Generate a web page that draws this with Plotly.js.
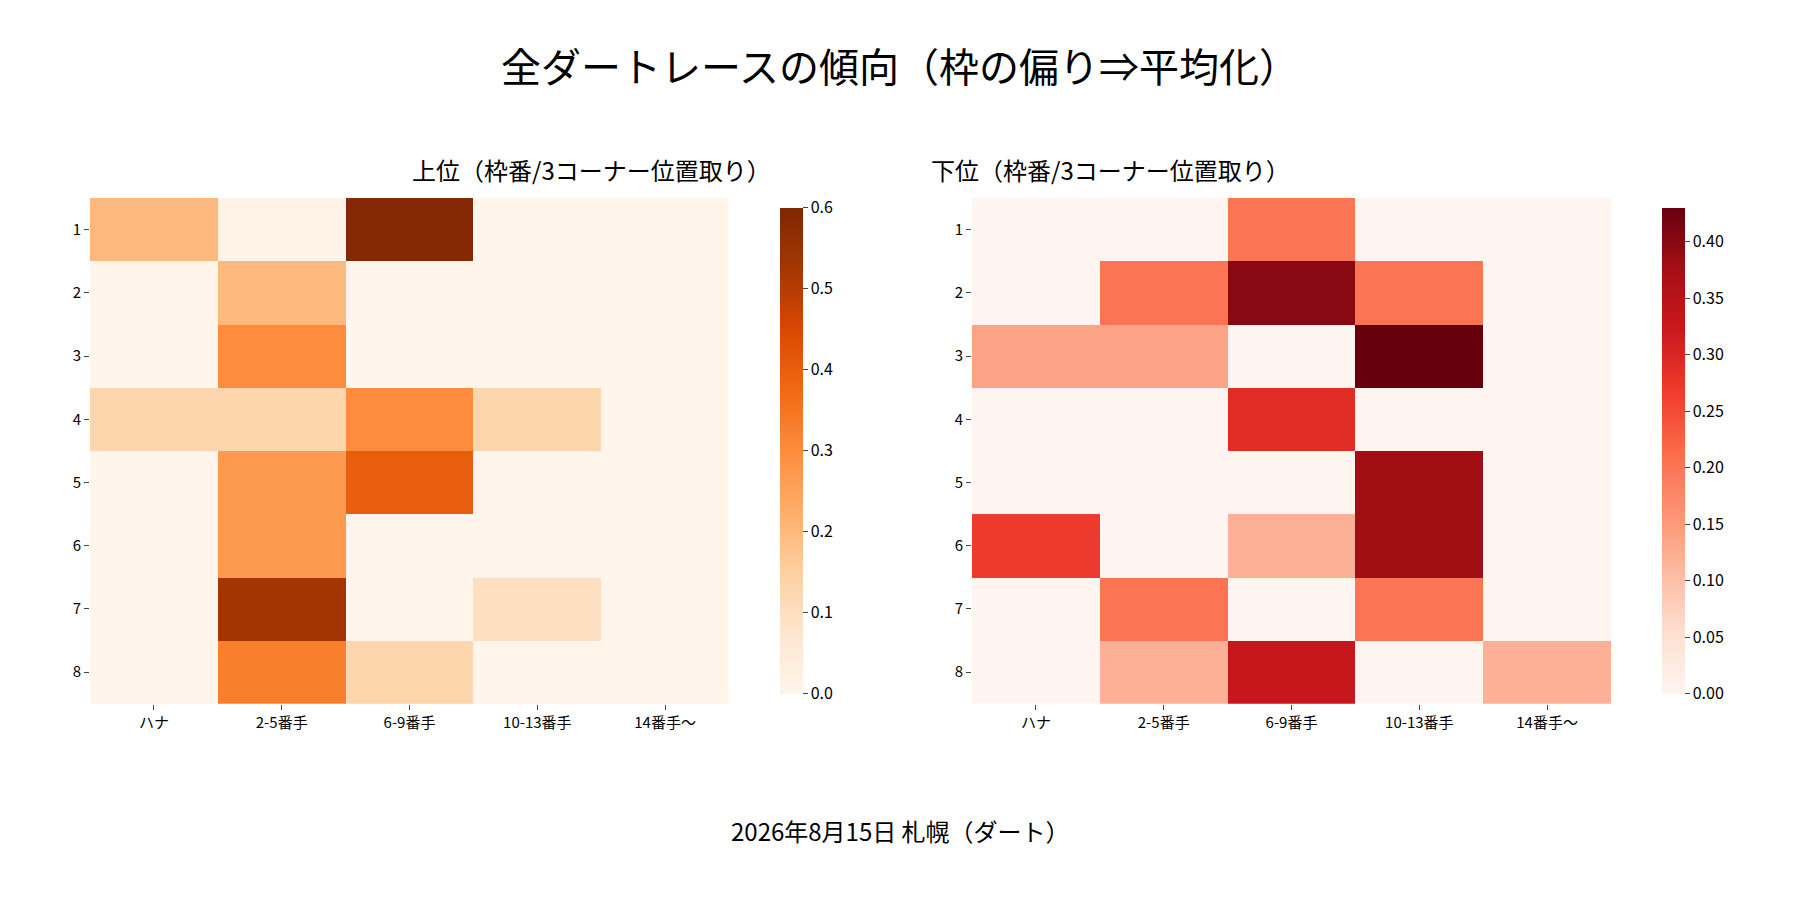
<!DOCTYPE html>
<html><head><meta charset="utf-8">
<script src="https://cdn.plot.ly/plotly-3.0.1.min.js"></script>
</head><body style="margin:0">
<div id="chart" style="width:1800px;height:900px"></div>
<script>
const cols = ['ハナ', '2-5番手', '6-9番手', '10-13番手', '14番手〜'];
const rows = [1, 2, 3, 4, 5, 6, 7, 8];

const upper = [
  [0.20, 0.01, 0.59, 0, 0],
  [0, 0.20, 0, 0, 0],
  [0, 0.30, 0, 0, 0],
  [0.13, 0.13, 0.30, 0.13, 0],
  [0, 0.27, 0.40, 0, 0],
  [0, 0.27, 0, 0, 0],
  [0, 0.53, 0, 0.10, 0],
  [0, 0.33, 0.13, 0, 0]
];
const lower = [
  [0, 0, 0.20, 0, 0],
  [0, 0.20, 0.40, 0.20, 0],
  [0.14, 0.14, 0, 0.43, 0],
  [0, 0, 0.29, 0, 0],
  [0, 0, 0, 0.38, 0],
  [0.27, 0, 0.12, 0.38, 0],
  [0, 0.20, 0, 0.20, 0],
  [0, 0.12, 0.33, 0, 0.12]
];

function scale(c) { return c.map((v, i) => [i / (c.length - 1), v]); }
const oranges = scale(['#fff5eb','#fee6ce','#fdd0a2','#fdae6b','#fd8d3c','#f16913','#d94801','#a63603','#7f2704']);
const reds = scale(['#fff5f0','#fee0d2','#fcbba1','#fc9272','#fb6a4a','#ef3b2c','#cb181d','#a50f15','#67000d']);

const font = { family: 'Noto Sans CJK JP, sans-serif', color: '#000' };
const cbBase = { thickness: 23, len: 0.562, y: 0.218, yanchor: 'bottom', outlinewidth: 0, ticks: 'outside', ticklen: 5, tickfont: { size: 16 } };

const data = [
  { type: 'heatmap', z: upper, x: cols, y: rows, colorscale: oranges, zmin: 0, zmax: 0.6, xgap: 0, ygap: 0,
    colorbar: Object.assign({}, cbBase, { x: 0.428, xanchor: 'left', dtick: 0.1, tickformat: '.1f' }) },
  { type: 'heatmap', z: lower, x: cols, y: rows, colorscale: reds, zmin: 0, zmax: 0.43, xaxis: 'x2', yaxis: 'y2',
    colorbar: Object.assign({}, cbBase, { x: 0.918, xanchor: 'left', dtick: 0.05, tickformat: '.2f' }) }
];

const ax = { ticks: 'outside', ticklen: 5, showgrid: false, zeroline: false, showline: false, tickfont: { size: 15 } };
const layout = {
  font: font,
  paper_bgcolor: '#fff', plot_bgcolor: '#fff',
  margin: { l: 0, r: 0, t: 0, b: 0 },
  title: { text: '全ダートレースの傾向（枠の偏り⇒平均化）', x: 0.5, y: 0.925, yanchor: 'middle', font: { size: 40 } },
  xaxis: Object.assign({}, ax, { domain: [0.05, 0.405], anchor: 'y' }),
  yaxis: Object.assign({}, ax, { domain: [0.218, 0.78], autorange: 'reversed', dtick: 1, anchor: 'x' }),
  xaxis2: Object.assign({}, ax, { domain: [0.54, 0.895], anchor: 'y2' }),
  yaxis2: Object.assign({}, ax, { domain: [0.218, 0.78], autorange: 'reversed', dtick: 1, anchor: 'x2' }),
  annotations: [
    { text: '上位（枠番/3コーナー位置取り）', xref: 'paper', yref: 'paper', x: 0.2275, y: 0.79, yanchor: 'bottom', showarrow: false, font: { size: 24 } },
    { text: '下位（枠番/3コーナー位置取り）', xref: 'paper', yref: 'paper', x: 0.7175, y: 0.79, yanchor: 'bottom', showarrow: false, font: { size: 24 } },
    { text: '2026年8月15日 札幌（ダート）', xref: 'paper', yref: 'paper', x: 0.5, y: 0.077, yanchor: 'middle', showarrow: false, font: { size: 24 } }
  ]
};

Plotly.newPlot('chart', data, layout, { displayModeBar: false });
</script>
</body></html>
